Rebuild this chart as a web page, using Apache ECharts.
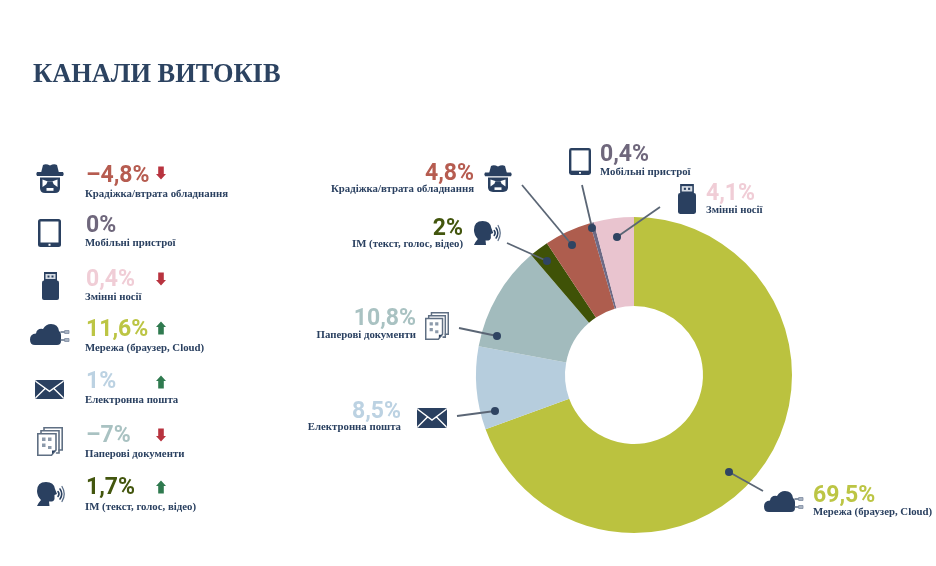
<!DOCTYPE html>
<html><head><meta charset="utf-8">
<style>html,body{margin:0;padding:0;background:#fff}#c{width:936px;height:566px}</style>
<script src="https://cdn.jsdelivr.net/npm/echarts@6/dist/echarts.min.js"></script>
</head><body><div id="c"></div>
<script>
const categories = ['Мережа (браузер, Cloud)','Електронна пошта','Паперові документи','IM (текст, голос, відео)','Крадіжка/втрата обладнання','Мобільні пристрої','Змінні носії'];
const shares = [69.5, 8.5, 10.8, 2, 4.8, 0.4, 4.1];
const changes = [11.6, 1, -7, 1.7, -4.8, 0, 0.4];
const trends = ['up','up','down','up','down','','down'];
const colors = ['#BBC23F','#B6CDDD','#A2BBBD','#3F5207','#AE5D4E','#6E6A85','#E9C4CF'];
const textColors = ['#BCC544','#BCD2E2','#A9C2C2','#43560E','#B65C50','#6F677C','#F0CDD6'];
const navy = '#2A4060';
const iconKeys = ['cloud','mail','docs','voice','spy','tablet','usb'];

const fmt = v => String(v).replace('.', ',').replace('-', '\u2013') + '%';

let shapeCount = 0;
function shapeType(d){
  const name = 'iconShape' + (shapeCount++);
  echarts.graphic.registerShape(name, echarts.graphic.extendPath(d, {}));
  return name;
}
function P(d, fill, stroke, lw){ return {type:shapeType(d), style:{fill:fill||'none', stroke:stroke||'none', lineWidth:lw||0, lineCap:'round'}}; }
const W = '#fff';
const icons = {
  spy:{w:28,h:29,parts:[
    P('M5 9 L7 1 Q10 -0.5 14 1.5 Q18 -0.5 21 1 L23 9 Z',navy),
    P('M1 8 L27 8 Q28.5 10 27 12 L1 12 Q-0.5 10 1 8 Z',navy),
    P('M4 13.5 L24 13.5 L24 24 Q24 29 19 29 L9 29 Q4 29 4 24 Z',navy),
    P('M6.5 15.5 L12 17.5 L16 17.5 L21.5 15.5 L21.5 23 L18 20.5 L10 20.5 L6.5 23 Z',W),
    P('M10.5 24 L17.5 24 L17.5 26.8 L10.5 26.8 Z',W),
    P('M11.5 17.5 L16.5 17.5 L18 21 L10 21 Z',navy)]},
  tablet:{w:23,h:28,parts:[
    P('M2.5 0 L20.5 0 Q23 0 23 2.5 L23 25.5 Q23 28 20.5 28 L2.5 28 Q0 28 0 25.5 L0 2.5 Q0 0 2.5 0 Z',navy),
    P('M2.5 2.5 L20.5 2.5 L20.5 23.5 L2.5 23.5 Z',W),
    P('M10.5 24.8 L12.5 24.8 L12.5 26.8 L10.5 26.8 Z',W)]},
  usb:{w:17,h:28,parts:[
    P('M2 0 L15 0 L15 10 L2 10 Z',navy),
    P('M3.5 2 L13.5 2 L13.5 7 L3.5 7 Z','#D6DCE4'),
    P('M5.5 3.5 L7.5 3.5 L7.5 5.5 L5.5 5.5 Z',navy),
    P('M9.5 3.5 L11.5 3.5 L11.5 5.5 L9.5 5.5 Z',navy),
    P('M2 8.5 L15 8.5 Q17 8.5 17 10.5 L17 26 Q17 28 15 28 L2 28 Q0 28 0 26 L0 10.5 Q0 8.5 2 8.5 Z',navy)]},
  cloud:{w:40,h:21,parts:[
    P('M5 21 Q0 21 0 15.5 Q0 10 6 9.5 Q7 4 13 5 Q16 0 21 0 Q28 0 29 7 Q31 8 31 11 L31 17 Q31 21 27 21 Z',navy),
    P('M31 8 L35 8 M31 16 L35 16',null,'#5F7088',1.5),
    P('M35 6.5 L39 6.5 L39 9.5 L35 9.5 Z M35 14.5 L39 14.5 L39 17.5 L35 17.5 Z','#A9B4C2','#7D8CA1',0.8)]},
  mail:{w:30,h:20,parts:[
    P('M2 0 L28 0 Q30 0 30 2 L30 18 Q30 20 28 20 L2 20 Q0 20 0 18 L0 2 Q0 0 2 0 Z',navy),
    P('M1 1.5 L15 12 L29 1.5 M1 18.5 L10.5 9 M29 18.5 L19.5 9',null,W,1.4)]},
  docs:{w:26,h:29,parts:[
    P('M7 3 L7 0.8 L25.2 0.8 L25.2 23 L22 23',null,'#5F6F83',1.6),
    P('M4 6 L4 3.8 L22 3.8 L22 26 L19.5 26',null,'#5F6F83',1.6),
    P('M0.8 6.8 L19 6.8 L19 23 L14.5 28.2 L0.8 28.2 Z',W,'#5F6F83',1.6),
    P('M5 10.5 L8.5 10.5 L8.5 14 L5 14 Z M11 10.5 L14.5 10.5 L14.5 14 L11 14 Z M5 16.5 L8.5 16.5 L8.5 20 L5 20 Z M11 19 L14.5 19 L14.5 22 L11 22 Z','#8C9AAB'),
    P('M15 27 L15 23.5 L18.5 23.5 Z',navy)]},
  voice:{w:28,h:24,parts:[
    P('M1 24 Q3 20 5 18 Q1 14 1 9 Q1 0 10 0 Q18 0 19 7 L21 12 L18.5 13 L18.5 17 Q18 20 13 19.5 L13.5 24 Z',navy),
    P('M22 9.5 Q24 12 22 14.5',null,navy,1.6),
    P('M24 7 Q27.5 12 24 17',null,navy,1.6),
    P('M26 4.5 Q30.5 12 26 19.5',null,'#5B6E88',1.3)]}
};
const arrowUp = shapeType('M0 -6.5 L5 -1 L2.8 -1 L2.8 6.5 L-2.8 6.5 L-2.8 -1 L-5 -1 Z');
const arrowDown = shapeType('M-2.8 -6.5 L2.8 -6.5 L2.8 1 L5 1 L0 6.5 L-5 1 L-2.8 1 Z');

function icon(key,x,y,w,h){
  const ic=icons[key];
  return {type:'group',x:x,y:y,scaleX:w/ic.w,scaleY:h/ic.h,silent:true,children:ic.parts.map(p=>({type:p.type,silent:true,style:Object.assign({},p.style)}))};
}
function txt(t,x,y,font,fill,align){
  return {type:'text',x:x,y:y,silent:true,style:{text:t,font:font,fill:fill,textAlign:align||'left',textVerticalAlign:'middle'}};
}
const pctFont = 'bold 23px Roboto,sans-serif';
const lblFont = 'bold 10.8px "Liberation Serif",serif';

/* left column layout, by category index */
const leftRows = [
 {i:4,num:176,lbl:194,arrow:173,box:[36,164,28,29]},
 {i:5,num:226,lbl:243,arrow:0,box:[38,219,23,28]},
 {i:6,num:280,lbl:297,arrow:279,box:[42,272,17,28]},
 {i:0,num:330,lbl:348,arrow:328,box:[30,324,40,21]},
 {i:1,num:382,lbl:400,arrow:382,box:[35,380,29,19]},
 {i:2,num:436,lbl:454,arrow:435,box:[37,427,26,29]},
 {i:3,num:488,lbl:507,arrow:487,box:[36,482,28,24]}
];
/* callouts round the ring */
const callouts = [
 {i:0,align:'left',x:813,num:496,lbl:512,box:[764,491,40,21],dot:[729,472],end:[763,491]},
 {i:1,align:'right',x:401,num:412,lbl:427,box:[417,408,30,20],dot:[495,411],end:[457,416]},
 {i:2,align:'right',x:416,num:319,lbl:335,box:[425,312,24,28],dot:[497,336],end:[459,328]},
 {i:3,align:'right',x:463,num:229,lbl:244,box:[473,221,27,24],dot:[547,261],end:[507,243]},
 {i:4,align:'right',x:474,num:174,lbl:189,box:[484,165,28,27],dot:[572,245],end:[522,185]},
 {i:5,align:'left',x:600,num:155,lbl:172,box:[569,148,22,27],dot:[592,228],end:[582,185]},
 {i:6,align:'left',x:706,num:194,lbl:210,box:[678,184,18,30],dot:[617,237],end:[660,207]}
];
function arrow(x,y,up){
  return {type:up?arrowUp:arrowDown,x:x,y:y,silent:true,style:{fill:up?'#2F7A4F':'#B8333F'}};
}
const g = [];
g.push(txt('КАНАЛИ ВИТОКІВ',33,75,'bold 26.4px "Liberation Serif",serif','#2C4361'));
leftRows.forEach(r=>{
  g.push(icon(iconKeys[r.i],r.box[0],r.box[1],r.box[2],r.box[3]));
  g.push(txt(fmt(changes[r.i]),86,r.num,pctFont,textColors[r.i]));
  g.push(txt(categories[r.i],85,r.lbl,lblFont,navy));
  if(trends[r.i]) g.push(arrow(161,r.arrow,trends[r.i]==='up'));
});
callouts.forEach(c=>{
  g.push(icon(iconKeys[c.i],c.box[0],c.box[1],c.box[2],c.box[3]));
  g.push(txt(fmt(shares[c.i]),c.x,c.num,pctFont,textColors[c.i],c.align));
  g.push(txt(categories[c.i],c.x,c.lbl,lblFont,navy,c.align));
  g.push({type:'line',z:10,silent:true,shape:{x1:c.dot[0],y1:c.dot[1],x2:c.end[0],y2:c.end[1]},style:{stroke:'#5B6675',lineWidth:1.8}});
  g.push({type:'circle',z:11,silent:true,shape:{cx:c.dot[0],cy:c.dot[1],r:4},style:{fill:'#2F4462'}});
});

const chart = echarts.init(document.getElementById('c'),null,{renderer:'canvas'});
chart.setOption({
  animation:false,
  backgroundColor:'#fff',
  series:[{
    type:'pie',
    center:[634,375],
    radius:[69,158],
    startAngle:90,
    clockwise:true,
    silent:true,
    label:{show:false},
    labelLine:{show:false},
    data:categories.map((n,i)=>({name:n,value:shares[i],itemStyle:{color:colors[i]}}))
  }],
  graphic:g
});
</script></body></html>
